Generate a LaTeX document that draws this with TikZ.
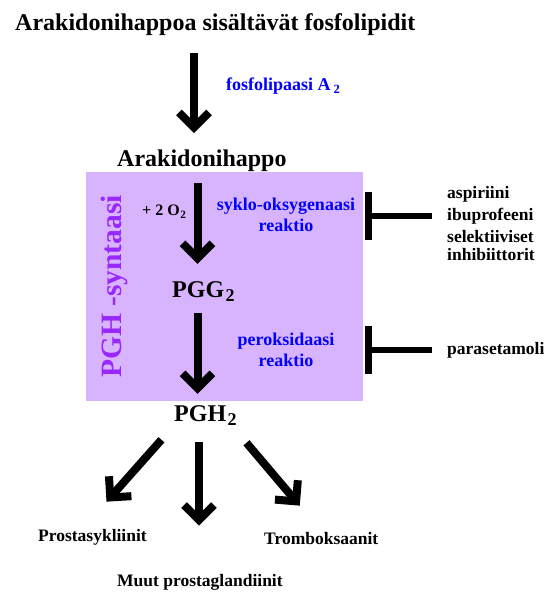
\documentclass[tikz,border=0pt]{standalone}
\usepackage{fontspec}
\setmainfont{Liberation Serif}
\usetikzlibrary{arrows.meta,calc}
\newcommand{\lowtwo}[2][0.7]{\kern#2\raisebox{-0.45ex}{\scalebox{#1}{2}}}

\begin{document}
\begin{tikzpicture}[x=1pt, y=-1pt,
    every node/.style={inner sep=0pt, font=\bfseries},
    big/.style={font=\fontsize{24}{28}\selectfont\bfseries},
    small/.style={font=\fontsize{17.5}{21}\selectfont\bfseries},
    enzyme/.style={font=\fontsize{18}{21.5}\selectfont\bfseries, text=blue, align=center},
    bigarrow/.style={line width=8pt, -{Straight Barb[length=15pt,width=30pt,sharp]}},
    inhib/.style={line width=6pt, -{Bar[width=48pt,line width=7pt]}}]
    \definecolor{boxlilac}{RGB}{217,180,254}
    \definecolor{synviolet}{RGB}{153,40,255}
    \useasboundingbox (0,0) rectangle (552,606);
    % ==== PGH-syntaasi box ====
    \fill[boxlilac] (86,172) rectangle (363,401);
    \node[rotate=90, anchor=base west, text=synviolet,
      font=\fontsize{29.5}{34}\selectfont\bfseries] (syn) at (121,378) {PGH -syntaasi};
    % ==== main chain ====
    \node[big, anchor=base west] (lipids) at (15,30) {Arakidonihappoa sisältävät fosfolipidit};
    \node[enzyme, anchor=base west] (pla) at (226,90) {fosfolipaasi A\lowtwo{3pt}};
    \node[big, anchor=base west] (aa) at (117,166) {Arakidonihappo};
    \node[anchor=base west, font=\fontsize{16}{19}\selectfont\bfseries] (oxy) at (142,215) {+ 2 O\lowtwo{0.5pt}};
    \node[enzyme, anchor=north] (cox) at (286,197.7) {syklo-oksygenaasi\\reaktio};
    \node[big, anchor=base west] (pgg) at (172,297) {PGG\lowtwo[0.75]{1.5pt}};
    \node[enzyme, anchor=north] (perox) at (286,332.8) {peroksidaasi\\reaktio};
    \node[big, anchor=base west] (pgh) at (174,421) {PGH\lowtwo[0.75]{1.5pt}};
    % ==== products ====
    \node[small, anchor=base west] (prosta) at (38,541) {Prostasykliinit};
    \node[small, anchor=base west] (trombo) at (264,544) {Tromboksaanit};
    \node[small, anchor=base west] (muut) at (117,586) {Muut prostaglandiinit};
    % ==== inhibitors ====
    \node[small, anchor=base west] (asp) at (447,198) {aspiriini};
    \node[small, anchor=base west] (ibu) at (447,220) {ibuprofeeni};
    \node[small, anchor=base west] (sel) at (447,242) {selektiiviset};
    \node[small, anchor=base west] (inh) at (447,260) {inhibiittorit};
    \node[small, anchor=base west] (para) at (447,354) {parasetamoli};
    \coordinate (coxbar) at (365,217);
    \coordinate (peroxbar) at (365,350);
    % ==== arrows ====
    \coordinate (col1) at (194,0);
    \coordinate (col2) at (197.5,0);
    \coordinate (col3) at (199,0);
    \draw[bigarrow] ($(lipids.south -| col1)+(0,18)$) -- ($(aa.north -| col1)+(0,-16)$);
    \draw[bigarrow] ($(aa.south -| col2)+(0,12)$) -- ($(pgg.north -| col2)+(0,-17)$);
    \draw[bigarrow] ($(pgg.south -| col2)+(0,10.6)$) -- ($(pgh.north -| col2)+(0,-11)$);
    \draw[bigarrow] ($(pgh.south)+(-44,13.6)$) -- ($(prosta.north)+(14,-27)$);
    \draw[bigarrow] ($(pgh.south -| col3)+(0,16)$) -- ($(muut.north -| col3)+(0,-48)$);
    \draw[bigarrow] ($(pgh.south)+(41,16.6)$) -- ($(trombo.north)+(-21.5,-26)$);
    % blocking bars
    \draw[inhib] ($(ibu.west)+(-15,0)$) -- (ibu.west -| coxbar);
    \draw[inhib] ($(para.west)+(-15,0)$) -- (para.west -| peroxbar);
\end{tikzpicture}
\end{document}
